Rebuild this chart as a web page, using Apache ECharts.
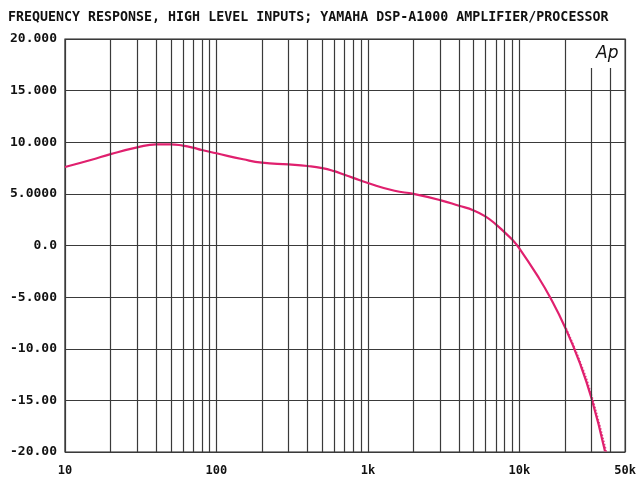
<!DOCTYPE html>
<html><head><meta charset="utf-8">
<script src="https://cdn.jsdelivr.net/npm/echarts@6/dist/echarts.min.js"></script>
<style>html,body{margin:0;padding:0;background:#fff}#c{width:639px;height:479px}</style>
</head><body><div id="c"></div>
<script>
const titleText = 'FREQUENCY RESPONSE, HIGH LEVEL INPUTS; YAMAHA DSP-A1000 AMPLIFIER/PROCESSOR';
const freqs = [10, 15, 20, 30, 40, 50, 60, 70, 80, 100, 150, 200, 300, 400, 500, 600, 700, 800, 1000, 1500, 2000, 3000, 4000, 5000, 6000, 7000, 8000, 9000, 10000, 13200, 16000, 20000, 25000, 30000, 36800];
const gains = [7.6, 8.3, 8.85, 9.5, 9.8, 9.8, 9.67, 9.48, 9.25, 8.93, 8.35, 8.02, 7.85, 7.7, 7.5, 7.2, 6.85, 6.55, 6.05, 5.3, 5.0, 4.4, 3.85, 3.4, 2.8, 2.05, 1.27, 0.55, -0.27, -2.95, -5.04, -7.89, -11.33, -14.82, -19.92];
const freqs2 = [20000, 25000, 30000, 37600];
const gains2 = [-7.75, -11.1, -14.5, -20.0];
const minorFreqs = [20,30,40,50,60,70,80,90,200,300,400,500,600,700,800,900,2000,3000,4000,5000,6000,7000,8000,9000,20000];
const shortFreqs = [30000, 40000];
const xTickLabels = {10:'10', 100:'100', 1000:'1k', 10000:'10k', 50000:'50k'};
const yTickLabels = {'20':'20.000','15':'15.000','10':'10.000','5':'5.0000','0':'0.0','-5':'-5.000','-10':'-10.00','-15':'-15.00','-20':'-20.00'};

const gridColor = '#3a3a3a';
const font = 'DejaVu Sans Mono';
const chart = echarts.init(document.getElementById('c'), null, {renderer:'canvas'});
const markData = minorFreqs.map(f => ({xAxis: f}))
  .concat(shortFreqs.map(f => [{coord:[f, 17.2]}, {coord:[f, -20]}]));
chart.setOption({
  animation: false,
  title: {text: titleText, left: 3, top: 6,
    textStyle: {fontFamily: font, fontSize: 13.3, fontWeight: 'bold', color: '#111'}},
  grid: {left: 65, right: 12, top: 39, bottom: 27, show: true, borderColor: '#222', borderWidth: 1.2},
  graphic: [{type:'text', left: 596, top: 45, style:{text:'Ap', fontFamily:'DejaVu Sans', fontStyle:'italic', fontSize:17, fill:'#111'}}],
  xAxis: {type: 'log', logBase: 10, min: 10, max: 50000,
    axisLine: {show: false}, axisTick: {show: false},
    splitLine: {show: true, lineStyle: {color: gridColor, width: 1.2}},
    axisLabel: {margin: 13, fontFamily: font, fontSize: 12, fontWeight: 'bold', color: '#111',
      showMaxLabel: true, showMinLabel: true,
      formatter: v => xTickLabels[Math.round(v)] || ''}},
  yAxis: {type: 'value', min: -20, max: 20, interval: 5,
    axisLine: {show: false}, axisTick: {show: false},
    splitLine: {show: true, lineStyle: {color: gridColor, width: 1.2}},
    axisLabel: {margin: 8, fontFamily: font, fontSize: 13, fontWeight: 'bold', color: '#111',
      formatter: v => yTickLabels[String(v)] || String(v)}},
  series: [
    {type: 'line', data: [], silent: true,
      markLine: {silent: true, symbol: 'none', label: {show: false},
        lineStyle: {color: gridColor, width: 1.2, type: 'solid'}, data: markData}},
    {type: 'line', smooth: true, showSymbol: false,
      data: freqs2.map((f, i) => [f, gains2[i]]),
      lineStyle: {color: '#e0206e', width: 1.6, type: 'dotted', opacity: 0.8}},
    {type: 'line', smooth: true, showSymbol: false,
      data: freqs.map((f, i) => [f, gains[i]]),
      lineStyle: {color: '#e0206e', width: 2.2}}
  ]
});
</script></body></html>
